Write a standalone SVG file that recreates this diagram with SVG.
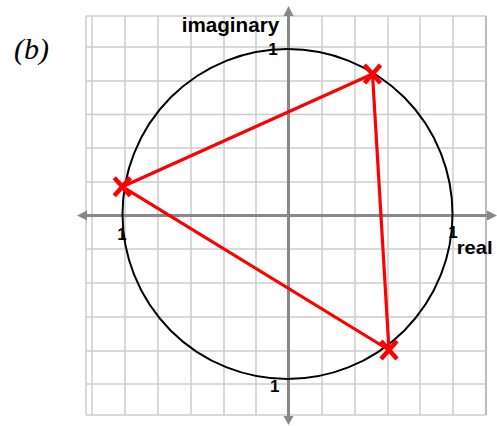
<svg xmlns="http://www.w3.org/2000/svg" width="497" height="426" viewBox="0 0 497 426">
  <style>
    .grid line { stroke: #cccccc; stroke-width: 1.5; }
    .axis { stroke: #888888; stroke-width: 3; }
    .arrow { fill: #888888; }
    .tri { stroke: #ff0000; stroke-width: 3.2; fill: none; stroke-linejoin: round; }
    .cross { stroke: #ff0000; stroke-width: 4.5; stroke-linecap: butt; }
    .lbl { font-family: "Liberation Sans", Arial, sans-serif; font-weight: bold; fill: #000; }
    .one { font-size: 17px; }
  </style>
  <defs>
    <path id="x" class="cross" d="M-8,-9 L8,9 M-8,9 L8,-9"/>
  </defs>
  <rect width="497" height="426" fill="#ffffff"/>
  <g id="grid" class="grid">
    <line x1="86" y1="16" x2="86" y2="415"/>
    <line x1="92" y1="16" x2="92" y2="415"/>
    <line x1="125" y1="16" x2="125" y2="415"/>
    <line x1="158" y1="16" x2="158" y2="415"/>
    <line x1="191" y1="16" x2="191" y2="415"/>
    <line x1="224" y1="16" x2="224" y2="415"/>
    <line x1="256" y1="16" x2="256" y2="415"/>
    <line x1="322" y1="16" x2="322" y2="415"/>
    <line x1="355" y1="16" x2="355" y2="415"/>
    <line x1="388" y1="16" x2="388" y2="415"/>
    <line x1="420" y1="16" x2="420" y2="415"/>
    <line x1="453" y1="16" x2="453" y2="415"/>
    <line x1="486" y1="16" x2="486" y2="415" style="stroke:#bbbbbb;stroke-width:2"/>
    <line x1="86" y1="16" x2="486" y2="16"/>
    <line x1="86" y1="47" x2="486" y2="47"/>
    <line x1="86" y1="81" x2="486" y2="81"/>
    <line x1="86" y1="114.5" x2="486" y2="114.5"/>
    <line x1="86" y1="148" x2="486" y2="148"/>
    <line x1="86" y1="182" x2="486" y2="182"/>
    <line x1="86" y1="249" x2="486" y2="249"/>
    <line x1="86" y1="283" x2="486" y2="283"/>
    <line x1="86" y1="317" x2="486" y2="317"/>
    <line x1="86" y1="351" x2="486" y2="351"/>
    <line x1="86" y1="384" x2="486" y2="384"/>
    <line x1="86" y1="415" x2="486" y2="415"/>
  </g>
  <g id="axes">
    <line class="axis" x1="86" y1="215.5" x2="488" y2="215.5"/>
    <polygon class="arrow" points="77,215.5 87,210.5 87,220.5"/>
    <polygon class="arrow" points="497,215.5 487,210.5 487,220.5"/>
    <line class="axis" x1="288.5" y1="15" x2="288.5" y2="417"/>
    <polygon class="arrow" points="288.5,6 283.5,16 293.5,16"/>
    <polygon class="arrow" points="288.5,425 283.5,416 293.5,416"/>
  </g>
  <g id="unit-circle">
    <circle cx="287.5" cy="214" r="165" fill="none" stroke="#000000" stroke-width="2"/>
  </g>
  <g id="connectors">
    <polygon class="tri" points="372.5,74 122.3,186.7 389,350"/>
  </g>
  <g id="p1"><use href="#x" x="372.5" y="74"/></g>
  <g id="p2"><use href="#x" x="122.3" y="186.7"/></g>
  <g id="p3"><use href="#x" x="389" y="350"/></g>
  <g id="labels">
    <text x="14" y="59" font-family="'Liberation Serif', 'Times New Roman', serif" font-style="italic" font-size="30">(b)</text>
    <text class="lbl" x="181.7" y="31.7" font-size="19.5" textLength="97.5" lengthAdjust="spacingAndGlyphs">imaginary</text>
    <text class="lbl" x="456.7" y="254" font-size="19" textLength="36" lengthAdjust="spacingAndGlyphs">real</text>
    <text class="lbl one" x="268.2" y="55">1</text>
    <text class="lbl one" x="448.2" y="237.5">1</text>
    <text class="lbl one" x="270" y="391.5">1</text>
    <text class="lbl one" x="117.2" y="240">1</text>
  </g>
</svg>
